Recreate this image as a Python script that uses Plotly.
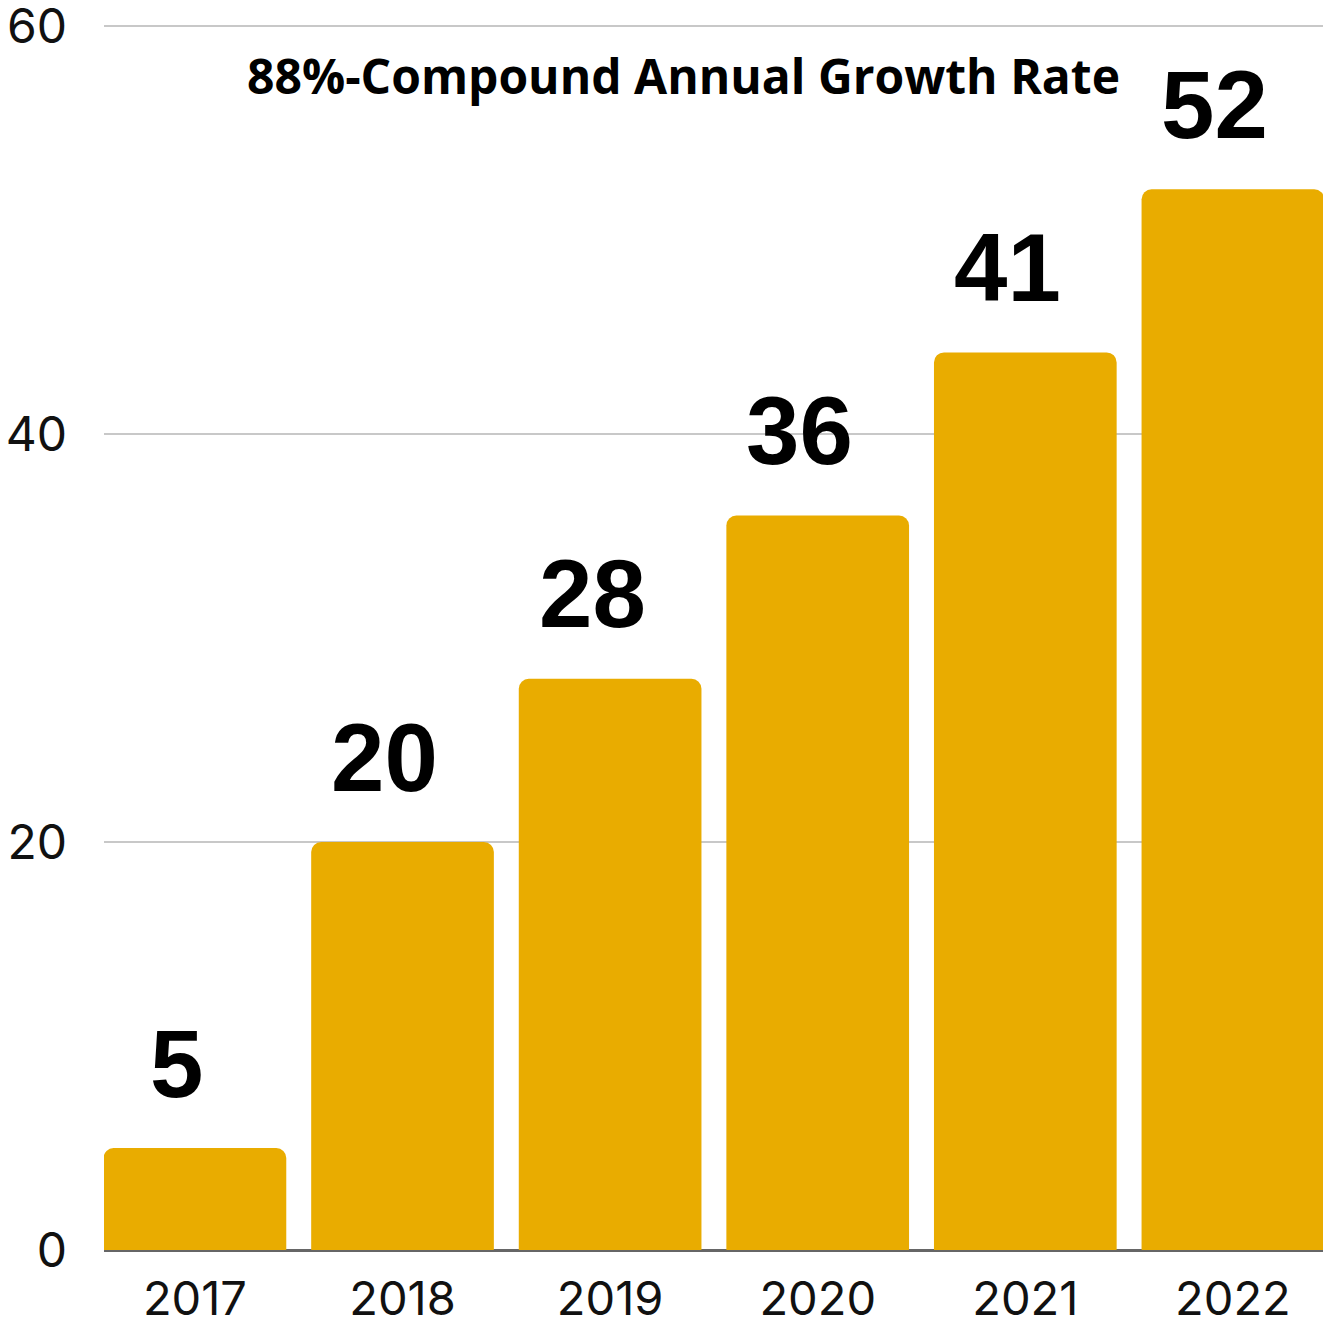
import plotly.graph_objects as go

years = ["2017", "2018", "2019", "2020", "2021", "2022"]
bar_values = [5, 20, 28, 36, 44, 52]
bar_labels = ["5", "20", "28", "36", "41", "52"]
y_ticks = [0, 20, 40, 60]
title_text = "88%-Compound Annual Growth Rate"

BAR_COLOR = "#E9AC00"

fig = go.Figure()
fig.add_trace(go.Bar(
    x=list(range(len(years))),
    y=bar_values,
    width=0.88,
    marker=dict(color=BAR_COLOR, line=dict(width=0), cornerradius=10),
    hoverinfo="skip",
))

for i, (v, lab) in enumerate(zip(bar_values, bar_labels)):
    fig.add_annotation(
        x=i, y=v, text=lab, showarrow=False,
        xanchor="center", yanchor="middle",
        xshift=-18, yshift=85,
        font=dict(family="Liberation Sans", size=96, color="#000000", weight="bold"),
    )

fig.add_annotation(
    x=0.475, xref="paper", y=60, yref="y", yshift=-49,
    text=title_text, showarrow=False, xanchor="center", yanchor="middle",
    font=dict(family="Open Sans", size=48, color="#000000", weight="bold"),
)

fig.update_layout(
    width=1323, height=1325,
    margin=dict(l=104, r=0, t=25, b=75, autoexpand=False),
    paper_bgcolor="white", plot_bgcolor="white",
    showlegend=False,
    xaxis=dict(
        range=[-0.438, 5.434],
        tickmode="array", tickvals=list(range(len(years))), ticktext=years,
        showgrid=False, zeroline=False, showline=False,
        ticks="", ticklabelstandoff=17, automargin=False,
        ticklabeloverflow="allow",
        tickfont=dict(family="Inter", size=47, color="#111111"),
        fixedrange=True,
    ),
    yaxis=dict(
        range=[0, 60.05],
        tickmode="array", tickvals=y_ticks,
        showgrid=True, gridcolor="#C8C8C8", gridwidth=2,
        zeroline=True, zerolinecolor="#666666", zerolinewidth=3,
        showline=False, ticks="", ticklabelstandoff=36, automargin=False,
        ticklabeloverflow="allow",
        tickfont=dict(family="Inter", size=48, color="#111111"),
        fixedrange=True,
    ),
)

fig.write_html("out.html")
